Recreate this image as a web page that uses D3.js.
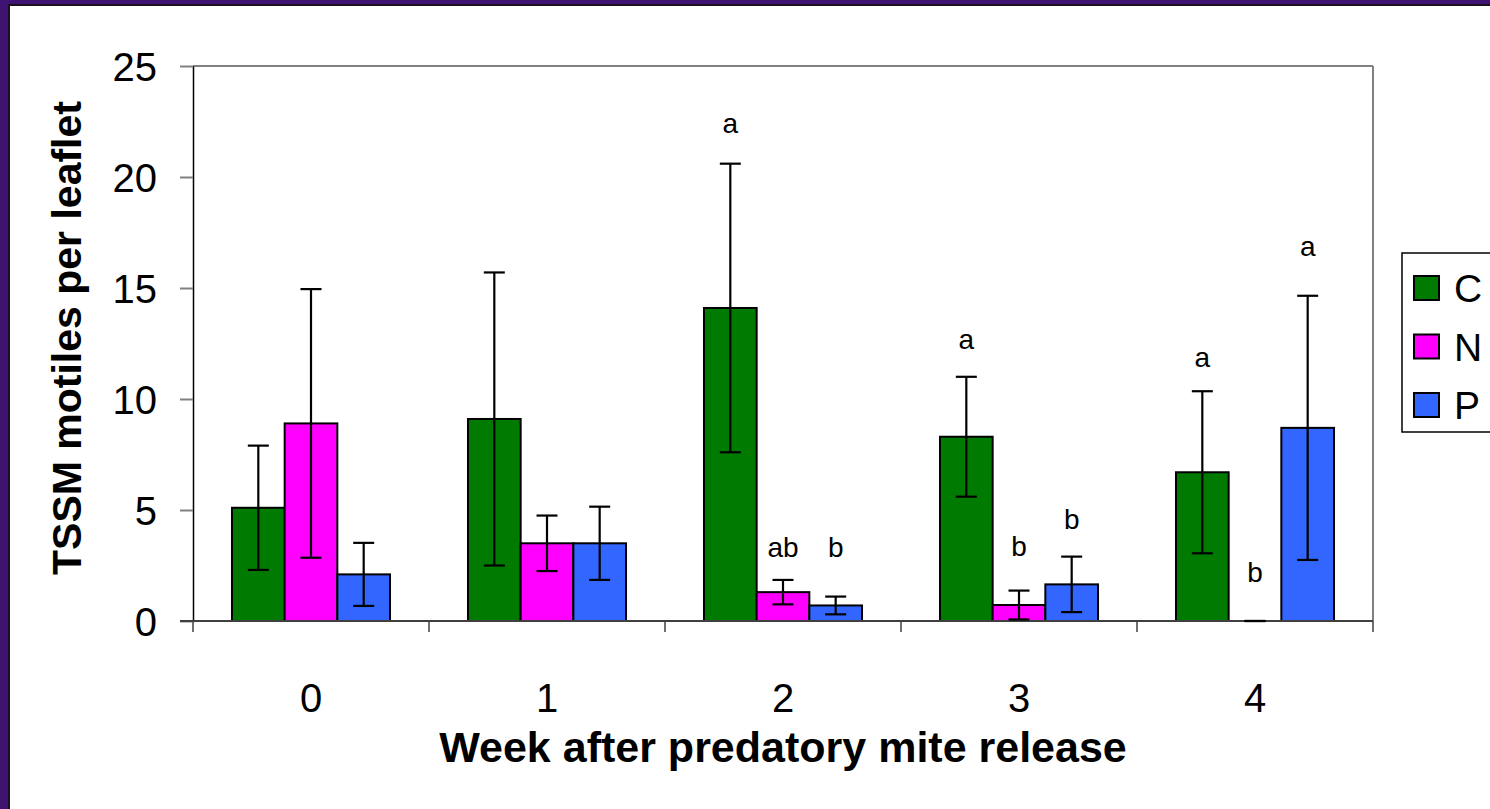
<!DOCTYPE html>
<html lang="en">
	<head>
		<meta charset="utf-8">
		<title>TSSM motiles per leaflet</title>
		<script type="text/javascript" src="https://cdn.jsdelivr.net/npm/d3@7"></script>
		<style type="text/css">
			body { margin: 0; background: #3f1372; }
			text { font-family: "Liberation Sans", Arial, sans-serif; fill: #000; }
			.bar { stroke: #000; stroke-width: 2; }
			.err { stroke: #000; stroke-width: 2.2; }
			.letter { font-size: 28px; }
			.tickLabel { font-size: 40px; }
			.title { font-size: 43px; font-weight: bold; }
		</style>
	</head>
	<body>
		<script type="text/javascript">

			var w = 1490;
			var h = 809;

			//Data
			var weeks = ["0", "1", "2", "3", "4"];
			var treatments = ["C", "N", "P"];
			var colors = ["#007a00", "#ff00ff", "#3366ff"];
			var meanC = [5.1, 9.1, 14.1, 8.3, 6.7];
			var meanN = [8.9, 3.5, 1.3, 0.72, 0];
			var meanP = [2.1, 3.5, 0.7, 1.65, 8.7];
			var seC = [2.8, 6.6, 6.5, 2.7, 3.65];
			var seN = [6.05, 1.25, 0.55, 0.65, 0];
			var seP = [1.42, 1.65, 0.4, 1.25, 5.95];
			var letterC = ["", "", "a", "a", "a"];
			var letterN = ["", "", "ab", "b", "b"];
			var letterP = ["", "", "b", "b", "a"];
			var letterYC = [0, 0, 22.0, 12.25, 11.45];
			var letterYN = [0, 0, 2.9, 2.95, 1.75];
			var letterYP = [0, 0, 2.9, 4.15, 16.45];
			var yTicks = [0, 5, 10, 15, 20, 25];

			var means = [meanC, meanN, meanP];
			var ses = [seC, seN, seP];
			var letters = [letterC, letterN, letterP];
			var letterYs = [letterYC, letterYN, letterYP];

			var dataset = [];
			weeks.forEach(function(wk, i) {
				treatments.forEach(function(t, j) {
					dataset.push({week: wk, trt: t, color: colors[j], mean: means[j][i], se: ses[j][i],
						letter: letters[j][i], ly: letterYs[j][i]});
				});
			});

			var plotLeft = 193, plotRight = 1373, plotTop = 66, plotBottom = 621;

			var xScale = d3.scaleBand().domain(weeks).range([plotLeft, plotRight]);
			var xInner = d3.scaleBand().domain(treatments).range([0, xScale.bandwidth()]).paddingOuter(0.74);
			var yScale = d3.scaleLinear().domain([0, 25]).range([plotBottom, plotTop]);

			var svg = d3.select("body").append("svg")
				.attr("width", w)
				.attr("height", h)
				.style("display", "block");

			//Purple frame and white page
			svg.append("rect").attr("width", w).attr("height", h).attr("fill", "#3f1372");
			svg.append("rect")
				.attr("x", 9).attr("y", 5).attr("width", w).attr("height", h)
				.attr("fill", "#fff").attr("stroke", "#1a1020").attr("stroke-width", 2);

			//Plot border (top and right)
			svg.append("line").attr("x1", plotLeft).attr("x2", plotRight).attr("y1", plotTop).attr("y2", plotTop)
				.attr("stroke", "#808080").attr("stroke-width", 2);
			svg.append("line").attr("x1", plotRight).attr("x2", plotRight).attr("y1", plotTop).attr("y2", plotBottom)
				.attr("stroke", "#808080").attr("stroke-width", 2);

			//Y axis
			var yAxis = d3.axisLeft(yScale).tickValues(yTicks).tickSize(13).tickSizeOuter(0).tickFormat(d3.format("d")).tickPadding(23);
			var gy = svg.append("g")
				.attr("transform", "translate(" + plotLeft + ",0)")
				.call(yAxis);
			gy.attr("font-family", null).attr("font-size", null);
			gy.select(".domain").attr("stroke", "#000").attr("stroke-width", 1.5);
			gy.selectAll(".tick line").attr("stroke", "#808080").attr("stroke-width", 2);
			gy.selectAll(".tick text").attr("class", "tickLabel").attr("dy", "0.36em");

			//Bars
			svg.selectAll("rect.bar")
				.data(dataset.filter(function(d) { return d.mean > 0; }))
				.enter()
				.append("rect")
				.attr("class", "bar")
				.attr("x", function(d) { return xScale(d.week) + xInner(d.trt); })
				.attr("y", function(d) { return yScale(d.mean); })
				.attr("width", xInner.bandwidth())
				.attr("height", function(d) { return yScale(0) - yScale(d.mean); })
				.attr("fill", function(d) { return d.color; });

			//X axis line and boundary ticks
			svg.append("line").attr("x1", 180).attr("x2", plotRight).attr("y1", plotBottom).attr("y2", plotBottom)
				.attr("stroke", "#404040").attr("stroke-width", 2);
			var bounds = weeks.map(function(d) { return xScale(d); }).concat([plotRight]);
			svg.selectAll("line.xtick")
				.data(bounds)
				.enter()
				.append("line")
				.attr("class", "xtick")
				.attr("x1", function(d) { return d; })
				.attr("x2", function(d) { return d; })
				.attr("y1", plotBottom)
				.attr("y2", plotBottom + 11)
				.attr("stroke", "#404040")
				.attr("stroke-width", 1.5);

			var xAxis = d3.axisBottom(xScale).tickSize(0).tickPadding(0);
			var gx = svg.append("g")
				.attr("transform", "translate(0," + plotBottom + ")")
				.call(xAxis);
			gx.attr("font-family", null).attr("font-size", null);
			gx.select(".domain").remove();
			gx.selectAll(".tick text").attr("class", "tickLabel")
				.attr("y", 91).attr("dy", 0);

			//Error bars
			var cap = 10.5;
			var eb = svg.selectAll("g.err")
				.data(dataset)
				.enter()
				.append("g")
				.attr("class", "err")
				.attr("transform", function(d) { return "translate(" + (xScale(d.week) + xInner(d.trt) + xInner.bandwidth() / 2) + ",0)"; });
			eb.filter(function(d) { return d.se > 0; }).append("line")
				.attr("x1", 0).attr("x2", 0)
				.attr("y1", function(d) { return yScale(d.mean + d.se); })
				.attr("y2", function(d) { return yScale(d.mean - d.se); });
			eb.append("line")
				.attr("x1", -cap).attr("x2", cap)
				.attr("y1", function(d) { return yScale(d.mean + d.se); })
				.attr("y2", function(d) { return yScale(d.mean + d.se); });
			eb.append("line")
				.attr("x1", -cap).attr("x2", cap)
				.attr("y1", function(d) { return yScale(d.mean - d.se); })
				.attr("y2", function(d) { return yScale(d.mean - d.se); });

			//Significance letters
			svg.selectAll("text.letter")
				.data(dataset.filter(function(d) { return d.letter !== ""; }))
				.enter()
				.append("text")
				.attr("class", "letter")
				.attr("text-anchor", "middle")
				.attr("x", function(d) { return xScale(d.week) + xInner(d.trt) + xInner.bandwidth() / 2; })
				.attr("y", function(d) { return yScale(d.ly); })
				.text(function(d) { return d.letter; });

			//Axis titles
			svg.append("text")
				.attr("class", "title")
				.style("font-size", "41px")
				.attr("text-anchor", "middle")
				.attr("transform", "translate(81,338) rotate(-90)")
				.text("TSSM motiles per leaflet");

			svg.append("text")
				.attr("class", "title")
				.attr("text-anchor", "middle")
				.attr("x", 783)
				.attr("y", 762)
				.text("Week after predatory mite release");

			//Legend
			var legend = svg.append("g").attr("transform", "translate(1402,253)");
			legend.append("rect")
				.attr("width", 100).attr("height", 179)
				.attr("fill", "#fff").attr("stroke", "#000").attr("stroke-width", 1.5);
			var items = legend.selectAll("g.item")
				.data(treatments)
				.enter()
				.append("g")
				.attr("class", "item")
				.attr("transform", function(d, i) { return "translate(12," + (23 + i * 58.5) + ")"; });
			items.append("rect")
				.attr("width", 25).attr("height", 24)
				.attr("fill", function(d, i) { return colors[i]; })
				.attr("stroke", "#000").attr("stroke-width", 2);
			items.append("text")
				.attr("x", 40)
				.attr("y", 12)
				.attr("dy", "0.36em")
				.style("font-size", "39px")
				.text(function(d) { return d; });

		</script>
	</body>
</html>
